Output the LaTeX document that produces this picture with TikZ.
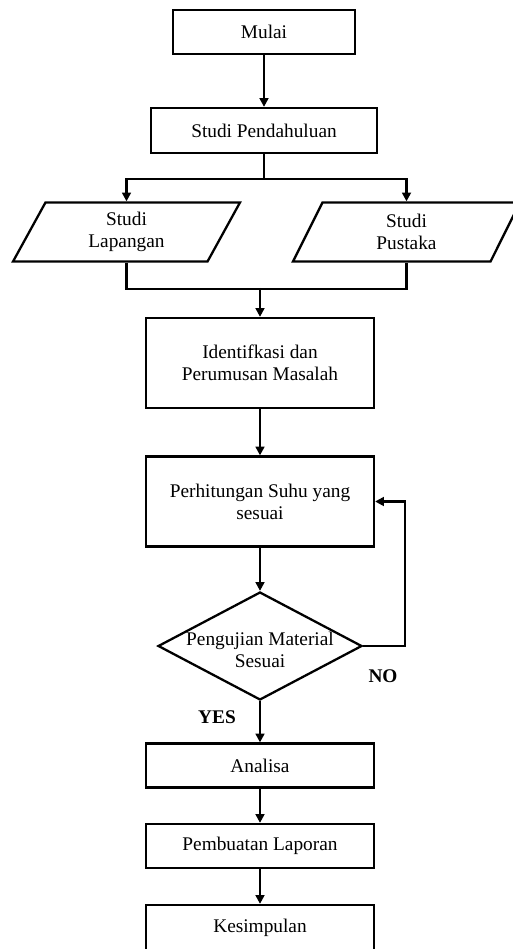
\documentclass[tikz,border=0pt]{standalone}
\usepackage{fontspec}
\setmainfont{Liberation Serif}
\usetikzlibrary{shapes.geometric, arrows.meta}

\tikzset{
	proses/.style={draw, rectangle, line width=1.3pt, align=center, inner sep=2pt, minimum width=4.56cm},
	datain/.style={draw, trapezium, trapezium left angle=53, trapezium right angle=127, trapezium stretches body, line width=1.3pt, align=center, inner sep=1pt, minimum width=4.54cm, minimum height=1.18cm},
	pilih/.style={draw, diamond, line width=1.3pt, minimum width=4.08cm, minimum height=2.16cm, inner sep=0pt},
	panah/.style={-{Triangle[length=5pt, width=5pt]}, line width=1.3pt},
	garis/.style={line width=1.3pt}
}

\begin{document}
\begin{tikzpicture}[x=0.02cm, y=-0.02cm, font=\fontsize{11}{12.5}\selectfont]
		\useasboundingbox (0,0) rectangle (513,949);

		\node[proses, minimum width=3.64cm, minimum height=0.88cm] (mulai) at (264, 32) {Mulai};
		\node[proses, minimum width=4.52cm, minimum height=0.9cm] (pend) at (264, 130.5) {Studi Pendahuluan};
		\node[datain] (lap) at (126.5, 232) {Studi\\Lapangan};
		\node[datain] (pust) at (406.5, 232) {Studi\\Pustaka};
		\node[proses, minimum height=1.8cm] (ident) at (260, 363) {Identifkasi dan\\Perumusan Masalah};
		\node[proses, minimum height=1.8cm] (hitung) at (260, 501.5) {Perhitungan Suhu yang\\sesuai};
		\node[pilih, label={[align=center, yshift=-0.08cm]center:Pengujian Material\\Sesuai}] (uji) at (260, 646) {};
		\node[proses, minimum height=0.88cm] (analisa) at (260, 765.5) {Analisa};
		\node[proses, minimum height=0.88cm] (laporan) at (260, 846) {Pembuatan Laporan};
		\node[proses, minimum height=0.92cm] (simpul) at (260, 928) {Kesimpulan};

		\node[font=\fontsize{11}{12.5}\selectfont\bfseries] (no) at (383, 676) {NO};
		\node[font=\fontsize{11}{12.5}\selectfont\bfseries] (yes) at (217, 717) {YES};

		\coordinate (gabung) at (260, 288);

		\draw[panah] (mulai) -- (pend);
		\draw[panah] (pend.south) -- ++(0, 25) -| (lap.north);
		\draw[panah] (pend.south) -- ++(0, 25) -| (pust.north);
		\draw[garis] (lap.south) -- ++(0, 26.3) -| (pust.south);
		\draw[panah] (gabung) -- (ident);
		\draw[panah] (ident) -- (hitung);
		\draw[panah] (hitung) -- (uji);
		\draw[panah] (uji.east) -- ++(41.6, 0) |- (hitung.east);
		\draw[panah] (uji) -- (analisa);
		\draw[panah] (analisa) -- (laporan);
		\draw[panah] (laporan) -- (simpul);
	\end{tikzpicture}
\end{document}
